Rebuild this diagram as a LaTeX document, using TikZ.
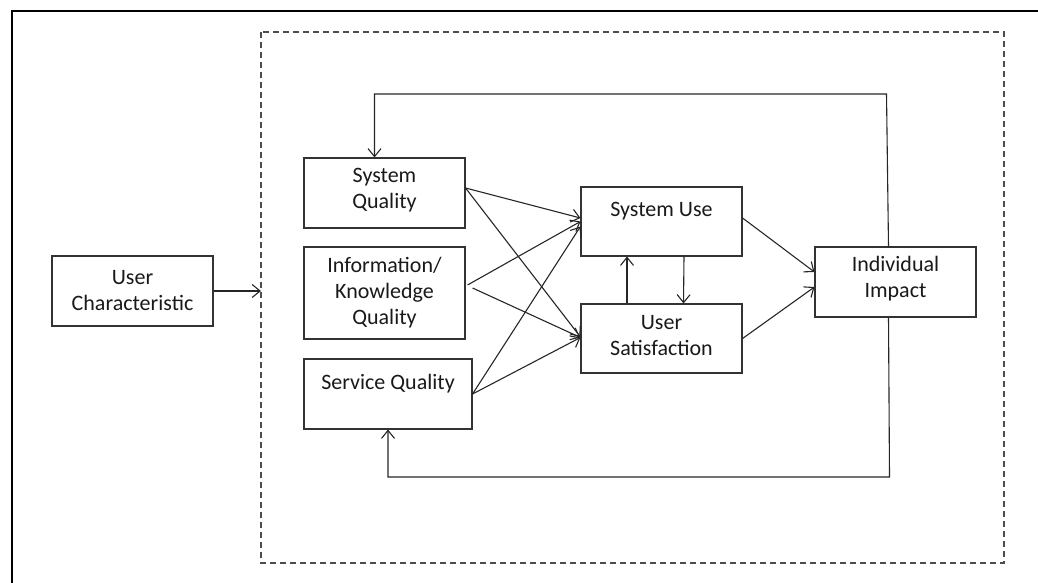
\documentclass[tikz,border=0pt]{standalone}
\usepackage{fontspec}
\setmainfont{Carlito}
\usetikzlibrary{arrows.meta}

\tikzstyle{block} = [draw=black!80, line width=1.1pt, rectangle, align=center, minimum width=161pt, text=black!90, font=\fontsize{22}{26}\selectfont]
\tikzstyle{boxtext} = [anchor=center, align=center, text=black!90, font=\fontsize{22}{26}\selectfont]
\tikzstyle{link} = [draw=black!85, line width=1.1pt, -{Straight Barb[length=8pt,width=13pt]}]

\begin{document}
\begin{tikzpicture}[x=1pt, y=-1pt]
  \useasboundingbox (0,0) rectangle (1038,583);
  % frame and system boundary
  \draw[line width=2.6pt] (12,583) -- (12,11) -- (1038,11);
  \draw[black!70, line width=1.3pt, dash pattern=on 6pt off 4pt] (261,32) rectangle (1004,563);

  \node[block, minimum height=70pt] (usrchar) at (132.5,291) {User\\Characteristic};
  \node[block, minimum height=70pt] (sysq) at (384.5,193) {};
  \node[boxtext] at ([yshift=3pt]sysq.center) {System\\Quality};
  \node[block, minimum height=92pt] (infoq) at (384.5,293) {Information/\\Knowledge\\Quality};
  \node[block, minimum width=168pt, minimum height=70pt] (servq) at (388,394) {};
  \node[boxtext] at ([yshift=-25pt]servq.north) {Service Quality};
  \node[block, minimum height=69pt] (sysuse) at (661.5,221.5) {};
  \node[boxtext] at ([yshift=-25pt]sysuse.north) {System Use};
  \node[block, minimum height=69pt] (usersat) at (661.5,338.5) {};
  \node[boxtext] at ([yshift=3pt]usersat.center) {User\\Satisfaction};
  \node[block, minimum height=70pt] (impact) at (895.5,282) {};
  \node[boxtext] at ([yshift=3pt]impact.center) {Individual\\Impact};

  \draw[link] (usrchar.east) -- (261,291);

  \draw[link] ([yshift=5pt]sysq.east) -- ([yshift=3.5pt]sysuse.west);
  \draw[link] ([yshift=5pt]sysq.east) -- ([yshift=1.5pt]usersat.west);
  \draw[link] ([xshift=2pt,yshift=8pt]infoq.east) -- ([yshift=0pt]sysuse.west);
  \draw[link] ([xshift=7pt,yshift=5pt]infoq.east) -- ([yshift=1pt]usersat.west);
  \draw[link] (servq.east) -- ([yshift=-5pt]sysuse.west);
  \draw[link] (servq.east) -- ([yshift=1pt]usersat.west);

  \draw[link] ([xshift=-34.5pt]usersat.north) -- ([xshift=-34.5pt]sysuse.south);
  \draw[link] ([xshift=22.5pt]sysuse.south) -- ([xshift=22pt]usersat.north);

  \draw[link] ([yshift=3.5pt]sysuse.east) -- ([yshift=10pt]impact.west);
  \draw[link] (usersat.east) -- ([yshift=-5pt]impact.west);

  % feedback loops
  \draw[link] ([xshift=-7pt]impact.north) -- ([xshift=-9pt]impact.north |- 0,94) -| ([xshift=-10pt]sysq.north);
  \draw[link] ([xshift=-7pt]impact.south) -- ([xshift=-6pt]impact.south |- 0,477) -| (servq.south);
\end{tikzpicture}
\end{document}
